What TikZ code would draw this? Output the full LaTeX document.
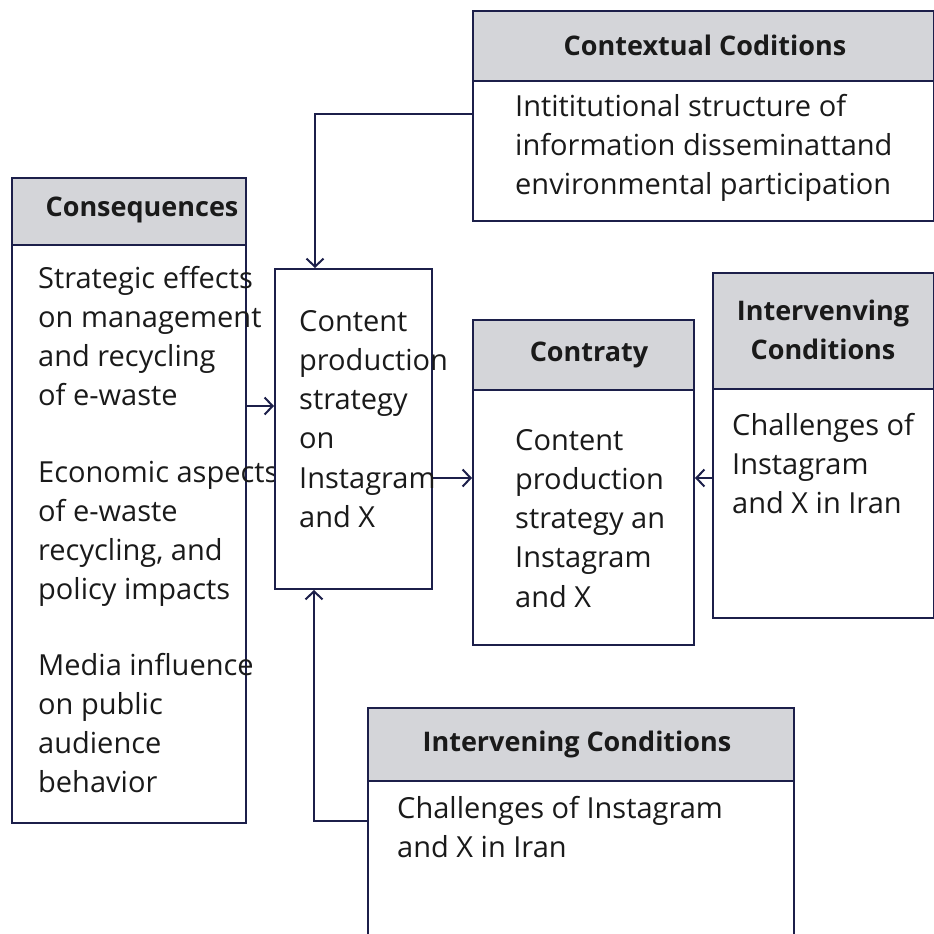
\documentclass[tikz,border=0pt]{standalone}
\usepackage{fontspec}
\setmainfont{Open Sans}
\usetikzlibrary{arrows.meta}
\definecolor{navy}{HTML}{1C1F4A}
\definecolor{hdrgray}{HTML}{D4D5D9}
\definecolor{txt}{HTML}{1A1A1A}
\newcommand\bodyfont{\fontsize{29}{39.3}\selectfont}
\newcommand\hdrfont{\fontsize{27}{39.3}\selectfont\bfseries}
\newcommand\blk[1]{\parbox[t]{400pt}{\raggedright\bodyfont #1}}
\begin{document}
\begin{tikzpicture}[x=1pt,y=-1pt,
  box/.style={draw=navy,line width=2pt,fill=white,inner sep=0pt,anchor=north west},
  hdrbox/.style={draw=navy,line width=2pt,fill=hdrgray,inner sep=0pt,anchor=north west},
  hdrtext/.style={text=txt,font=\hdrfont,inner sep=0pt,align=center},
  bodytext/.style={text=txt,inner sep=0pt,anchor=base west},
  arr/.style={draw=navy,line width=2pt,-{Straight Barb[length=8pt,width=17pt,line width=2pt]}}]
\useasboundingbox (0,0) rectangle (934,934);
\fill[white] (0,0) rectangle (934,934);
\clip (0,0) rectangle (934,934);
% Contextual Conditions
\node[box,minimum width=461pt,minimum height=210pt] (ctx) at (472,10) {};
\node[hdrbox,minimum width=461pt,minimum height=70pt] (ctxh) at (472,10) {};
\node[hdrtext] (ctxt) at (705,45) {Contextual Coditions};
\node[bodytext] (ctxb) at (515,116) {\blk{Intititutional structure of\\information disseminattand\\environmental participation}};
% Consequences
\node[box,minimum width=234pt,minimum height=645pt] (cons) at (11,177) {};
\node[hdrbox,minimum width=234pt,minimum height=67pt] (consh) at (11,177) {};
\node[hdrtext] (const) at (142,210) {Consequences};
\node[bodytext] (consb1) at (38,288) {\blk{Strategic effects\\on management\\and recycling\\of e-waste}};
\node[bodytext] (consb2) at (38,482) {\blk{Economic aspects\\of e-waste\\recycling, and\\policy impacts}};
\node[bodytext] (consb3) at (38,675) {\blk{Media influence\\on public\\audience\\behavior}};
% Center
\node[box,minimum width=157pt,minimum height=320pt] (cen) at (274,268) {};
\node[bodytext] (cenb) at (299,331) {\blk{Content\\production\\strategy\\on\\Instagram\\and X}};
% Contraty
\node[box,minimum width=221pt,minimum height=325pt] (con) at (472,319) {};
\node[hdrbox,minimum width=221pt,minimum height=70pt] (conh) at (472,319) {};
\node[hdrtext] (cont) at (589,355) {Contraty};
\node[bodytext] (conb) at (515,450) {\blk{Content\\production\\strategy an\\Instagram\\and X}};
% Right intervening
\node[box,minimum width=221pt,minimum height=345pt] (rint) at (712,272) {};
\node[hdrbox,minimum width=221pt,minimum height=116pt] (rinth) at (712,272) {};
\node[hdrtext] (rintt) at (823,330) {Intervenving\\Conditions};
\node[bodytext] (rintb) at (732,435) {\blk{Challenges of\\Instagram\\and X in Iran}};
% Bottom intervening
\node[box,minimum width=426pt,minimum height=260pt] (bint) at (367,707) {};
\node[hdrbox,minimum width=426pt,minimum height=73pt] (binth) at (367,707) {};
\node[hdrtext] (bintt) at (577,744) {Intervening Conditions};
\node[bodytext] (bintb) at (397,818) {\blk{Challenges of Instagram\\and X in Iran}};
% connectors
\coordinate (k1) at (315,114);
\coordinate (k2) at (314,821);
\draw[arr] (ctx.west |- k1) -- (k1) -- (k1 |- cen.north);
\draw[arr] (bint.west |- k2) -- (k2) -- (k2 |- cen.south);
\coordinate (k3) at (0,406);
\draw[arr] (cons.east |- k3) -- (cen.west |- k3);
\coordinate (k4) at (0,478);
\draw[arr] (cen.east |- k4) -- (con.west |- k4);
\draw[arr] (rint.west |- k4) -- (con.east |- k4);
\end{tikzpicture}
\end{document}
